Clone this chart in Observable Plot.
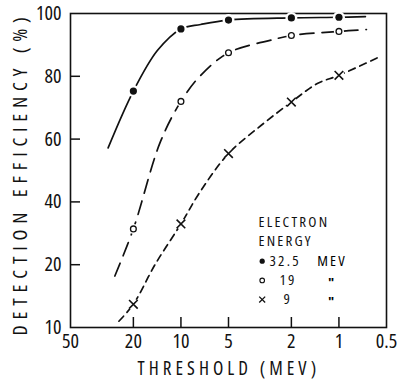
<!DOCTYPE html>
<html>
<head>
<meta charset="utf-8">
<script src="https://cdn.jsdelivr.net/npm/d3@7"></script>
<script src="https://cdn.jsdelivr.net/npm/@observablehq/plot@0.6"></script>
<style>
  html, body { margin: 0; padding: 0; background: #fff; }
  #chart svg { display: block; }
</style>
</head>
<body>
<div id="chart"></div>
<script>
// Electron detection efficiency versus discriminator threshold

// measured points: threshold (MeV) and efficiency (%) for each beam energy
const thresholds = [20, 10, 5, 2, 1];
const eff325 = [75.3, 95.1, 97.9, 98.6, 98.8];
const eff19 = [31.4, 72.0, 87.5, 93.0, 94.3];
const eff9 = [13.7, 33.0, 55.4, 71.8, 80.3];

// guide curves drawn through the measurements: [threshold, efficiency]
const curve325 = [[28.9, 57.2], [20, 75.3], [14.1, 88.2], [10, 95.1], [7.5, 96.5], [5, 97.9], [2, 98.6], [1, 98.8], [0.68, 99.0]];
const curve19 = [[26.2, 18.2], [20, 31.4], [13.5, 59.1], [10, 72.0], [7.5, 80.3], [5, 87.5], [2.6, 91.7], [2, 93.0], [1, 94.3], [0.67, 94.9]];
const curve9 = [[24.7, 11.0], [20, 13.7], [14.6, 20.0], [10, 33.0], [7.5, 43.5], [5, 55.4], [3.1, 64.4], [2, 71.8], [1.37, 77.7], [1, 80.3], [0.56, 86.1]];

// axes
const xTicks = [50, 20, 10, 5, 2, 1, 0.5];
const xInnerTicks = [20, 10, 5, 2, 1];
const yTicks = [10, 20, 40, 60, 80, 100];
const yInnerTicks = [20, 40, 60, 80];
const xTitle = "THRESHOLD (MEV)";
const yTitle = "DETECTION EFFICIENCY (%)";

// legend
const legendTitle = ["ELECTRON", "ENERGY"];
const legendEnergies = ["32.5", "19", "9"];
const legendUnits = ["MEV", "\"", "\""];

const width = 400, height = 383;
const marginLeft = 70, marginRight = 14, marginTop = 13, marginBottom = 56;
const yBottom = height - marginBottom;
const font = "'Open Sans', 'DejaVu Sans', sans-serif";
const ink = "#111";

const pts = (effs) => thresholds.map((t, i) => ({t, e: effs[i]}));
const pts325 = pts(eff325), pts19 = pts(eff19), pts9 = pts(eff9);

// legend layout (offsets from the top-left corner of the frame)
const legendX = 188, legendTitleY = 208.7, legendRowY = 247.7, legendRowStep = 19.2;
const legendNumDx = [199, 209, 213];
const legendMarkers = [
  {r: 2.6, fill: ink},
  {r: 2.3, fill: "white", stroke: ink, strokeWidth: 1.1},
  {r: 2.8, symbol: "times", stroke: ink, strokeWidth: 1.3}
];

const legendMarks = [];
legendTitle.forEach((s, i) => {
  legendMarks.push(Plot.text([s], {text: d => d, frameAnchor: "top-left", dx: legendX, dy: legendTitleY + i * 19, textAnchor: "start", lineAnchor: "middle", fontSize: 15, fill: ink}));
});
legendEnergies.forEach((s, i) => {
  const dy = legendRowY + i * legendRowStep;
  legendMarks.push(Plot.dot([s], {frameAnchor: "top-left", dx: legendX + 3.7, dy, ...legendMarkers[i]}));
  legendMarks.push(Plot.text([s], {text: d => d, frameAnchor: "top-left", dx: legendNumDx[i], dy, textAnchor: "start", lineAnchor: "middle", fontSize: 15, fill: ink}));
  legendMarks.push(Plot.text([legendUnits[i]], {text: d => d, frameAnchor: "top-left", dx: i === 0 ? 246.7 : 260.7, dy: i === 0 ? dy : dy + 2, textAnchor: i === 0 ? "start" : "middle", lineAnchor: "middle", fontSize: i === 0 ? 15 : 13, fontWeight: i === 0 ? null : 700, fill: "#000"}));
});

const chart = Plot.plot({
  width, height, marginLeft, marginRight, marginTop, marginBottom,
  style: {fontFamily: font, fontStretch: "75%", fontWeight: 380, background: "white", color: ink},
  x: {type: "log", domain: [50, 0.5]},
  y: {type: "linear", domain: [10, 20, 100], range: [yBottom, yBottom - (yBottom - marginTop) / 5, marginTop]},
  marks: [
    // labels
    Plot.axisY({ticks: yTicks, tickSize: 0, tickPadding: 9, label: null, fontSize: 20, tickFormat: d => String(d)}),
    Plot.axisX({ticks: xTicks, tickSize: 0, tickPadding: 6, label: null, fontSize: 20, tickFormat: d => String(d)}),
    // inward tick marks
    Plot.axisY({ticks: yInnerTicks, tickSize: 10, dx: 10, text: null, label: null, strokeWidth: 1.5}),
    Plot.axisX({ticks: xInnerTicks, tickSize: 10, dy: -10, text: null, label: null, strokeWidth: 1.5}),
    Plot.frame({stroke: ink, strokeWidth: 1.6}),
    // curves
    Plot.line(curve325, {x: d => d[0], y: d => d[1], curve: "catmull-rom", stroke: ink, strokeWidth: 1.7}),
    Plot.line(curve19, {x: d => d[0], y: d => d[1], curve: "catmull-rom", stroke: ink, strokeWidth: 1.7, strokeDasharray: "14,8"}),
    Plot.line(curve9, {x: d => d[0], y: d => d[1], curve: "catmull-rom", stroke: ink, strokeWidth: 1.7, strokeDasharray: "7,5"}),
    // white halos break the curves around each marker
    Plot.dot(pts325, {x: "t", y: "e", r: 6, fill: "white"}),
    Plot.dot(pts19, {x: "t", y: "e", r: 5, fill: "white"}),
    Plot.dot(pts9, {x: "t", y: "e", r: 5.5, fill: "white"}),
    // markers
    Plot.dot(pts325, {x: "t", y: "e", r: 3.6, fill: ink}),
    Plot.dot(pts19, {x: "t", y: "e", r: 2.9, fill: "white", stroke: ink, strokeWidth: 1.3}),
    Plot.dot(pts9, {x: "t", y: "e", r: 4, symbol: "times", stroke: ink, strokeWidth: 1.6}),
    // axis titles
    Plot.text([xTitle], {text: d => d, frameAnchor: "bottom", dy: 41.5, textAnchor: "middle", lineAnchor: "middle", fontSize: 19, fill: ink}),
    Plot.text([yTitle], {text: d => d, frameAnchor: "left", dx: -50, dy: 2.5, rotate: -90, textAnchor: "middle", lineAnchor: "middle", fontSize: 20, fill: ink}),
    ...legendMarks
  ]
});

document.getElementById("chart").append(chart);

// spaced-out lettering for the titles and legend
const texts = d3.select(chart).selectAll("text");
function letterSpace(labels, spacing, length) {
  texts.filter(function () { return labels.includes(this.textContent); }).each(function () {
    this.style.letterSpacing = spacing + "px";
    if (length) {
      this.setAttribute("textLength", length);
      this.setAttribute("lengthAdjust", "spacing");
    } else {
      this.setAttribute("dx", 0);
    }
  });
}
letterSpace([xTitle], 3.4, 182);
letterSpace([yTitle], 6.6, 325);
letterSpace([...legendTitle, ...legendEnergies, legendUnits[0]], 2.2);
</script>
</body>
</html>
